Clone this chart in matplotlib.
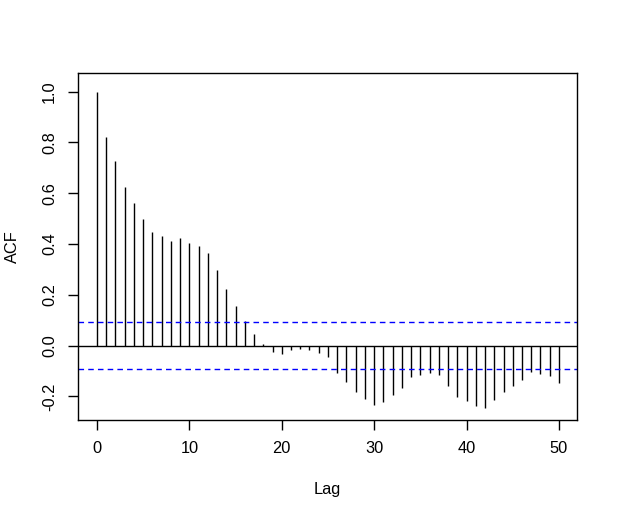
import matplotlib
matplotlib.use("Agg")
import matplotlib.pyplot as plt
import numpy as np

lags = list(range(0, 51))
acf = [1.0, 0.82, 0.726, 0.624, 0.56, 0.497, 0.446, 0.431, 0.411, 0.423,
       0.405, 0.392, 0.364, 0.298, 0.224, 0.154, 0.096, 0.046, 0.005,
       -0.027, -0.032, -0.019, -0.012, -0.016, -0.029, -0.046, -0.107,
       -0.144, -0.182, -0.212, -0.232, -0.224, -0.194, -0.166, -0.123,
       -0.115, -0.107, -0.116, -0.158, -0.202, -0.220, -0.238, -0.245,
       -0.213, -0.183, -0.158, -0.136, -0.106, -0.111, -0.119, -0.149]
conf = 0.091
xticks = [0, 10, 20, 30, 40, 50]
yticks = [-0.2, 0.0, 0.2, 0.4, 0.6, 0.8, 1.0]

plt.rcParams['font.family'] = ['Liberation Sans', 'DejaVu Sans']
W, H = 618, 518
fig = plt.figure(figsize=(W / 100, H / 100), dpi=100)
ax = fig.add_axes([78 / W, 1 - 420 / H, (577 - 78) / W, (420 - 73) / H])

ax.vlines(lags, 0, acf, color='black', linewidth=1.0)
ax.axhline(0, color='black', linewidth=1.0)
for c in (conf, -conf):
    ax.axhline(c, color='#0000ff', linewidth=1.0, linestyle=(0, (4, 3)))

ax.set_xlim(-2.05, 51.95)
ax.set_ylim(-0.293, 1.073)
ax.set_xticks(xticks)
ax.set_yticks(yticks)
ax.set_yticklabels([f"{v:.1f}" for v in yticks], rotation=90, va='center')
ax.tick_params(axis='both', direction='out', length=7, width=1, labelsize=11.8)
ax.tick_params(axis='x', pad=8)
ax.tick_params(axis='y', pad=8)
for s in ax.spines.values():
    s.set_linewidth(1.0)
ax.set_xlabel('Lag', fontsize=11.8, labelpad=19)
ax.set_ylabel('ACF', fontsize=11.8, labelpad=16)

fig.savefig('out.png', dpi=100)
